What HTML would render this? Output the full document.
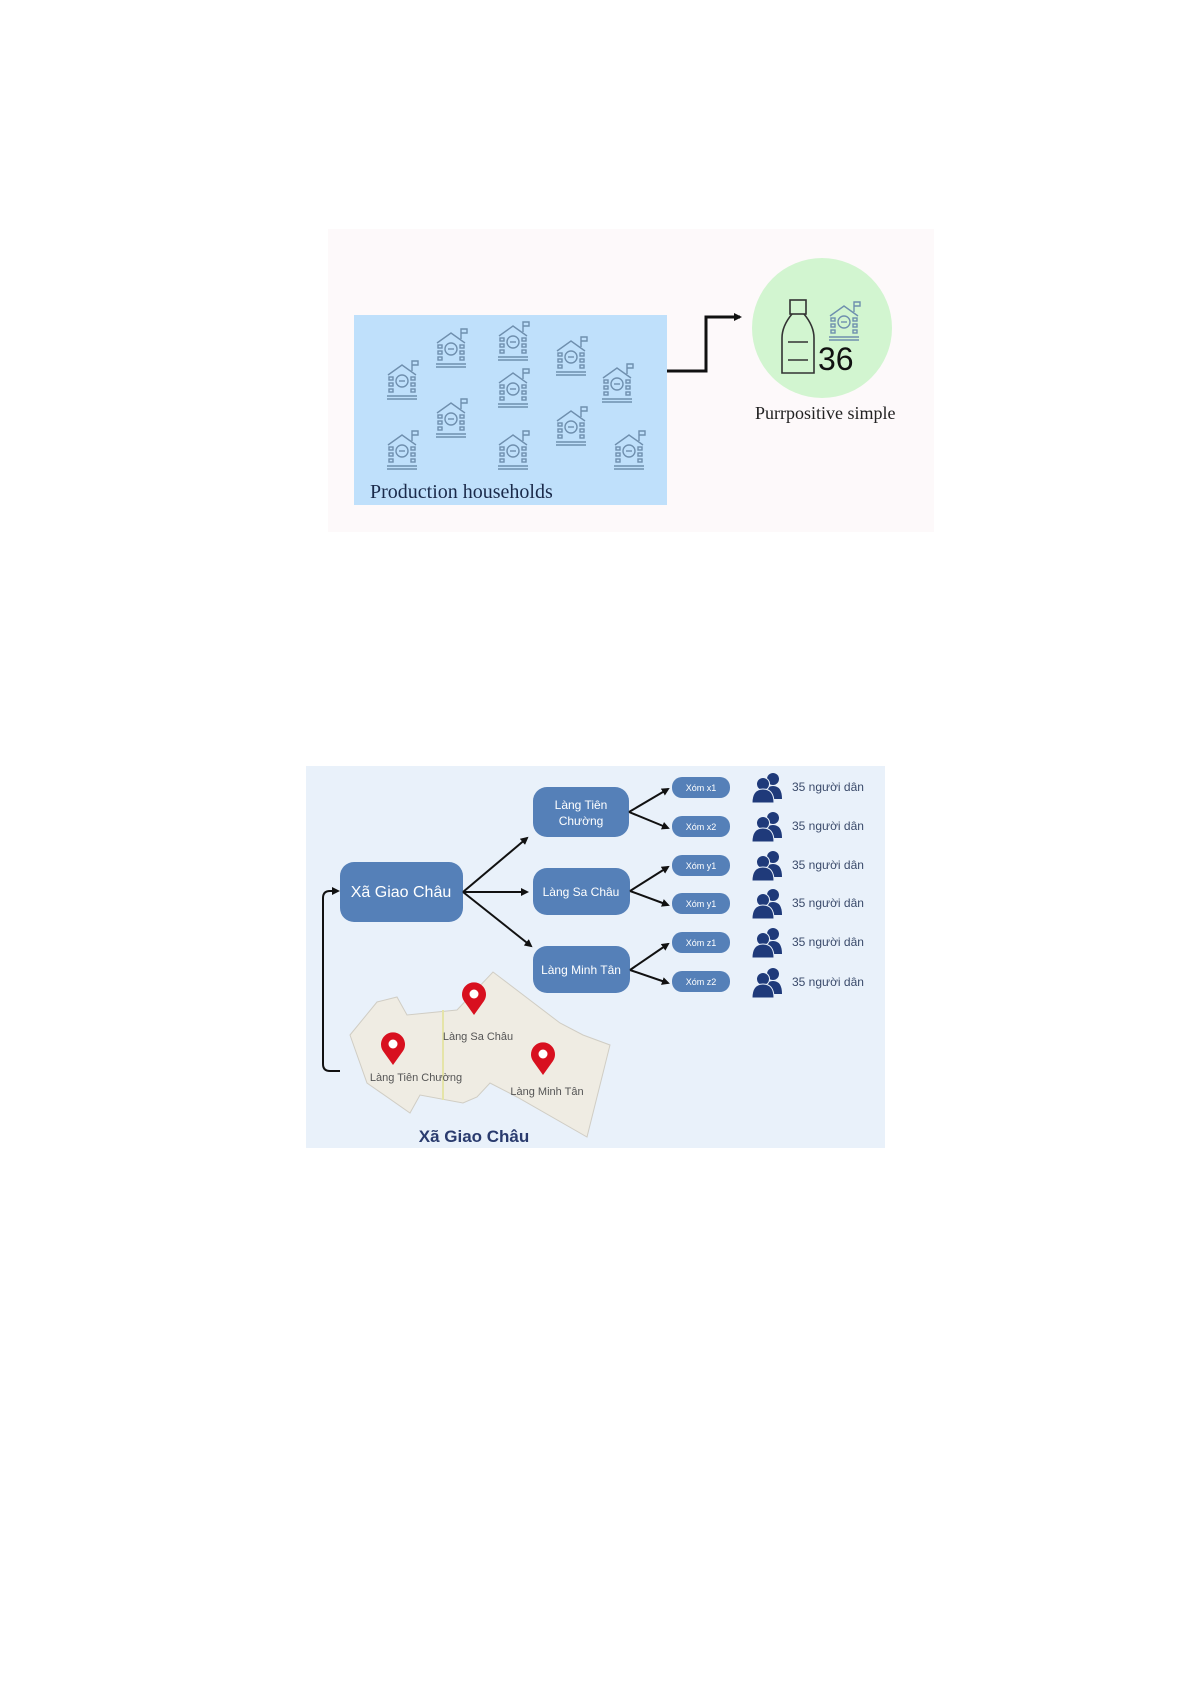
<!DOCTYPE html>
<html><head><meta charset="utf-8"><style>
html,body{margin:0;padding:0;background:#fff;}
svg{display:block;}
</style></head><body>
<svg width="1192" height="1685" viewBox="0 0 1192 1685" xmlns="http://www.w3.org/2000/svg">
<defs>
<g id="h" fill="none" stroke="#6f8fae" stroke-width="1.4">
<path d="M-14,-6 L0,-16 L14,-6"/><path d="M10,-10 V-20 H16 V-16 H10"/>
<circle cx="0" cy="0" r="6"/><path d="M-3,0 h6"/>
<rect x="-13" y="-4" width="4" height="3"/><rect x="-13" y="2" width="4" height="3"/><rect x="-13" y="8" width="4" height="3"/>
<rect x="9" y="-4" width="4" height="3"/><rect x="9" y="2" width="4" height="3"/><rect x="9" y="8" width="4" height="3"/>
<path d="M-15,15 h30 M-15,18 h30"/>
</g>
<g id="p" fill="#1f3a7a">
<circle cx="6" cy="-8" r="6"/><path d="M-3,12 q0,-13 9,-13 q9,0 9,13z"/>
<circle cx="-4" cy="-3" r="6.5" stroke="#e9f1fa" stroke-width="1"/><path d="M-15,16 q0,-14 11,-14 q11,0 11,14z" stroke="#e9f1fa" stroke-width="1"/>
</g>
<g id="pin"><path d="M0,17 L-10,3 A12,12 0 1 1 10,3 Z" fill="#d8101f"/><circle cx="0" cy="-4" r="4.5" fill="#fff"/></g>
<marker id="a" markerWidth="8" markerHeight="8" refX="6" refY="4" orient="auto" markerUnits="userSpaceOnUse"><path d="M0,0 L8,4 L0,8 z" fill="#111"/></marker>
</defs>

<!-- Top panel -->
<rect x="328" y="229" width="606" height="303" fill="#fdf9fa"/>
<rect x="354" y="315" width="313" height="190" fill="#bfe0fb"/>
<use href="#h" x="402" y="381"/><use href="#h" x="451" y="349"/><use href="#h" x="513" y="342"/>
<use href="#h" x="571" y="357"/><use href="#h" x="617" y="384"/><use href="#h" x="451" y="419"/>
<use href="#h" x="513" y="389"/><use href="#h" x="571" y="427"/><use href="#h" x="402" y="451"/>
<use href="#h" x="513" y="451"/><use href="#h" x="629" y="451"/>
<text x="370" y="498" font-family="Liberation Serif, serif" font-size="20" fill="#1a2a4a">Production households</text>
<path d="M667,371 H706 V317 H740" fill="none" stroke="#111" stroke-width="3" marker-end="url(#a)"/>
<circle cx="822" cy="328" r="70" fill="#d2f5d0"/>
<g fill="none" stroke="#333" stroke-width="1.6">
<rect x="790" y="300" width="16" height="14"/><path d="M792,314 q-10,12 -10,24 v35 h32 v-35 q0,-12 -10,-24"/>
<path d="M788,342 h20 M788,360 h20"/>
</g>
<use href="#h" x="844" y="322" transform="translate(0,0)"/>
<text x="818" y="370" font-family="Liberation Sans, sans-serif" font-size="32" fill="#111">36</text>
<text x="755" y="419" font-family="Liberation Serif, serif" font-size="18" fill="#222">Purrpositive simple</text>

<!-- Bottom panel -->
<rect x="306" y="766" width="579" height="382" fill="#e9f1fa"/>
<polygon points="350,1035 377,1002 397,997 407,1015 457,1010 493,972 560,1023 583,1035 610,1045 587,1137 517,1097 490,1083 477,1097 463,1103 420,1095 410,1113 367,1083" fill="#efece3" stroke="#d0cdc4"/>
<path d="M443,1010 V1100" stroke="#e5e4a8" stroke-width="2"/>
<use href="#pin" x="474" y="998"/><use href="#pin" x="393" y="1048"/><use href="#pin" x="543" y="1058"/>
<g font-family="Liberation Sans, sans-serif" font-size="11" fill="#555" text-anchor="middle">
<text x="478" y="1040">Làng Sa Châu</text><text x="416" y="1081">Làng Tiên Chường</text><text x="547" y="1095">Làng Minh Tân</text>
</g>
<text x="474" y="1142" font-family="Liberation Sans, sans-serif" font-size="17" font-weight="bold" fill="#2a3b6e" text-anchor="middle">Xã Giao Châu</text>

<path d="M340,1071 H330 Q323,1071 323,1064 V898 Q323,891 330,891 H338" fill="none" stroke="#111" stroke-width="2" marker-end="url(#a)"/>

<g fill="#5580b8">
<rect x="340" y="862" width="123" height="60" rx="14"/>
<rect x="533" y="787" width="96" height="50" rx="14"/>
<rect x="533" y="868" width="97" height="47" rx="14"/>
<rect x="533" y="946" width="97" height="47" rx="14"/>
<rect x="672" y="777" width="58" height="21" rx="10"/>
<rect x="672" y="816" width="58" height="21" rx="10"/>
<rect x="672" y="855" width="58" height="21" rx="10"/>
<rect x="672" y="893" width="58" height="21" rx="10"/>
<rect x="672" y="932" width="58" height="21" rx="10"/>
<rect x="672" y="971" width="58" height="21" rx="10"/>
</g>
<g font-family="Liberation Sans, sans-serif" fill="#fff" text-anchor="middle">
<text x="401" y="897" font-size="16">Xã Giao Châu</text>
<text x="581" y="809" font-size="12">Làng Tiên</text><text x="581" y="825" font-size="12">Chường</text>
<text x="581" y="896" font-size="12">Làng Sa Châu</text>
<text x="581" y="974" font-size="12">Làng Minh Tân</text>
<g font-size="9"><text x="701" y="791">Xóm x1</text><text x="701" y="830">Xóm x2</text><text x="701" y="869">Xóm y1</text><text x="701" y="907">Xóm y1</text><text x="701" y="946">Xóm z1</text><text x="701" y="985">Xóm z2</text></g>
</g>
<g stroke="#111" stroke-width="2" fill="none" marker-end="url(#a)">
<path d="M463,892 L527,838"/><path d="M463,892 L527,892"/><path d="M463,892 L531,946"/>
<path d="M629,812 L668,789"/><path d="M629,812 L668,828"/>
<path d="M630,891 L668,867"/><path d="M630,891 L668,905"/>
<path d="M630,970 L668,944"/><path d="M630,970 L668,983"/>
</g>
<use href="#p" x="767" y="787"/><use href="#p" x="767" y="826"/><use href="#p" x="767" y="865"/>
<use href="#p" x="767" y="903"/><use href="#p" x="767" y="942"/><use href="#p" x="767" y="982"/>
<g font-family="Liberation Sans, sans-serif" font-size="12" fill="#3a4a6a">
<text x="792" y="791">35 người dân</text><text x="792" y="830">35 người dân</text><text x="792" y="869">35 người dân</text>
<text x="792" y="907">35 người dân</text><text x="792" y="946">35 người dân</text><text x="792" y="986">35 người dân</text>
</g>
</svg>
</body></html>
